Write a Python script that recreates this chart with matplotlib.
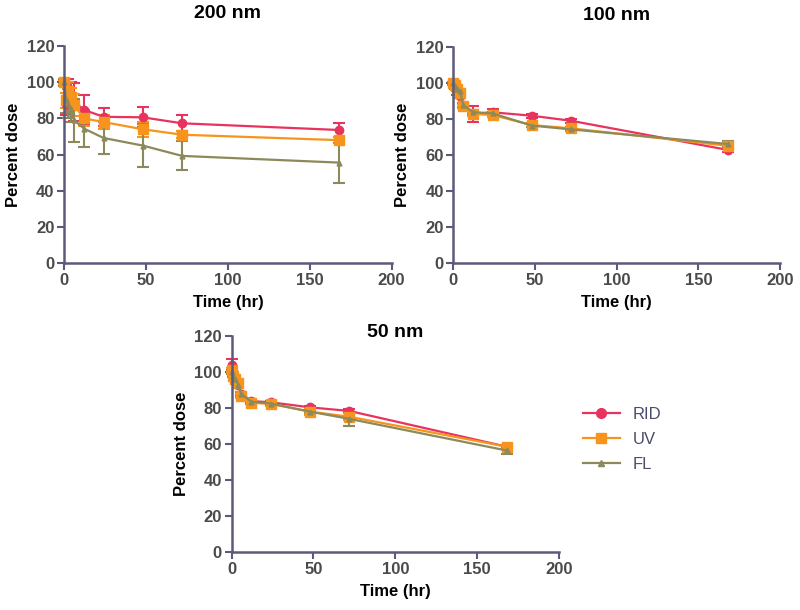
import matplotlib
matplotlib.use("Agg")
import matplotlib.pyplot as plt
from matplotlib.lines import Line2D

plt.rcParams['font.family'] = ['Liberation Sans', 'DejaVu Sans']

# sampling times (hr)
time = [0, 1, 2, 4, 6, 12, 24, 48, 72, 168]
series = ["RID", "UV", "FL"]

# 200 nm
rid_200 = [100, 88, 97, 93, 89.3, 84.7, 80.9, 80.6, 77.3, 73.6]
rid_200_err = [2, 6, 5, 7, 10.5, 8, 5, 5.5, 4.5, 4]
uv_200 = [100, 90, 95, 92, 87.5, 80, 78, 74, 71, 68]
uv_200_err = [1, 4, 5, 5, 6, 4, 4, 4, 2, 1.5]
fl_200 = [100, 91, 88, 85, 79, 74.4, 69.2, 65, 59.3, 55.6]
fl_200_err = [2, 8, 8, 7, 12, 10, 9, 12, 8, 11]

# 100 nm
rid_100 = [100, 98, 95, 93, 88, 83, 83.9, 82, 79.2, 63]
rid_100_err = [1, 1, 1.5, 1, 1, 4.4, 2, 1, 1, 1]
uv_100 = [100, 99, 97, 94.8, 87.4, 83, 82.4, 76.8, 75, 65.3]
uv_100_err = [1, 1, 1, 1, 1, 1, 1, 1, 1, 1]
fl_100 = [100, 98.5, 97, 95.8, 88, 84, 83.3, 76.5, 74.4, 66.3]
fl_100_err = [1, 1, 1, 1, 1, 1, 1, 1, 1, 1.5]

# 50 nm
rid_50 = [103.9, 99, 97, 93, 88, 83.9, 83.2, 80.4, 78.4, 58.6]
rid_50_err = [3.3, 1, 1, 1, 1, 1, 1, 1, 1, 1]
uv_50 = [101, 98, 96, 93.7, 86.7, 83, 82.3, 78, 75.2, 58.6]
uv_50_err = [1, 1, 1, 1, 1, 1, 1, 2, 2, 1]
fl_50 = [100, 98, 96, 93, 87.8, 83.5, 82.5, 78, 74, 56.5]
fl_50_err = [1, 1, 1, 1, 1, 1, 1, 1, 4, 2]

colors = {"RID": "#e8335e", "UV": "#f7941d", "FL": "#8c8a5a"}
markers = {"RID": ("o", 6), "UV": ("s", 6.5), "FL": ("^", 3.5)}
spine_col = "#5c5a7a"

panels = [
    ("200 nm", [0.0804, 0.5684, 0.409, 0.3562], 1.148,
     [(rid_200, rid_200_err), (uv_200, uv_200_err), (fl_200, fl_200_err)]),
    ("100 nm", [0.5667, 0.5684, 0.4083, 0.354], 1.148,
     [(rid_100, rid_100_err), (uv_100, uv_100_err), (fl_100, fl_100_err)]),
    ("50 nm", [0.2896, 0.0946, 0.409, 0.3546], 1.015,
     [(rid_50, rid_50_err), (uv_50, uv_50_err), (fl_50, fl_50_err)]),
]

fig = plt.figure(figsize=(8, 6.1), dpi=100)
for title, pos, ty, data in panels:
    ax = fig.add_axes(pos)
    for name, (vals, errs) in zip(series, data):
        m, ms = markers[name]
        ax.errorbar(time, vals, yerr=errs, color=colors[name], marker=m,
                    markersize=ms, linewidth=1.6, elinewidth=1.5,
                    capsize=4, capthick=1.5, clip_on=False)
    ax.set_xlim(0, 200)
    ax.set_ylim(0, 120)
    ax.set_xticks([0, 50, 100, 150, 200])
    ax.set_yticks([0, 20, 40, 60, 80, 100, 120])
    for s in ["top", "right"]:
        ax.spines[s].set_visible(False)
    for s in ["left", "bottom"]:
        ax.spines[s].set_color(spine_col)
        ax.spines[s].set_linewidth(1.8)
    ax.tick_params(colors=spine_col, width=1.5, length=5, labelsize=12,
                   labelcolor="#4a4a4a", pad=2)
    for lb in ax.get_xticklabels() + ax.get_yticklabels():
        lb.set_fontweight("bold")
    ax.set_xlabel("Time (hr)", fontsize=12, fontweight="bold", labelpad=5)
    ax.set_ylabel("Percent dose", fontsize=12, fontweight="bold", labelpad=4)
    ax.text(0.5, ty, title, transform=ax.transAxes, ha="center", va="center",
            fontsize=14, fontweight="bold")

handles = [Line2D([], [], color=colors[n], marker=markers[n][0],
                  markersize=markers[n][1] + 1, linewidth=1.6) for n in series]
leg = fig.legend(handles=handles, labels=series, loc="upper left",
                 bbox_to_anchor=(0.71, 0.357), frameon=False, fontsize=12,
                 handlelength=2.2, labelspacing=0.6)
for t in leg.get_texts():
    t.set_color("#4b4b6b")

fig.savefig("out.png", dpi=100)
